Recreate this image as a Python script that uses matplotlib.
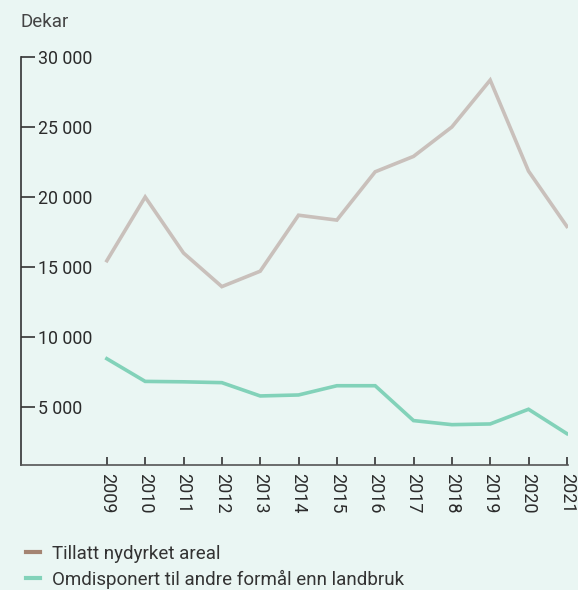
import matplotlib
matplotlib.use("Agg")
import matplotlib.pyplot as plt
from matplotlib.lines import Line2D
from matplotlib.ticker import FuncFormatter

# data (dekar)
years = [2009, 2010, 2011, 2012, 2013, 2014, 2015, 2016, 2017, 2018, 2019, 2020, 2021]
nydyrket = [15450, 20000, 16000, 13600, 14700, 18700, 18350, 21800, 22900, 25000, 28350, 21850, 17900]
omdisponert = [8450, 6830, 6800, 6740, 5790, 5860, 6520, 6520, 4030, 3740, 3790, 4840, 3100]
y_ticks = [5000, 10000, 15000, 20000, 25000, 30000]
series_labels = ["Tillatt nydyrket areal", "Omdisponert til andre formål enn landbruk"]

BG = "#eaf6f3"
GREY_LINE = "#c9c0bb"
BROWN_LEGEND = "#a48472"
TEAL = "#82d2b9"
TEXT = "#2b2b2b"

plt.rcParams["font.family"] = ["Roboto", "DejaVu Sans"]

fig = plt.figure(figsize=(5.78, 5.90), dpi=100, facecolor=BG)
ax = fig.add_axes([0.0363, 0.2119, 0.9464, 0.6915])
ax.set_facecolor(BG)

ax.plot(years, nydyrket, color=GREY_LINE, lw=2.6, solid_joinstyle="miter")
ax.plot(years, omdisponert, color=TEAL, lw=2.6, solid_joinstyle="miter")

ax.set_xlim(2006.76, 2021.03)
ax.set_ylim(860, 30000)

for s in ["top", "right"]:
    ax.spines[s].set_visible(False)
ax.spines["left"].set_color("#333333")
ax.spines["bottom"].set_color("#555555")
ax.spines["left"].set_linewidth(1.2)
ax.spines["bottom"].set_linewidth(1.2)

ax.set_yticks(y_ticks)
ax.yaxis.set_major_formatter(FuncFormatter(lambda v, p: f"{int(v):,}".replace(",", " ")))
ax.tick_params(axis="y", direction="in", length=10, width=1.2, color="#333333",
               pad=-12, labelsize=12.8, labelcolor=TEXT)
for lbl in ax.get_yticklabels():
    lbl.set_horizontalalignment("left")

ax.set_xticks(years)
ax.set_xticklabels([str(y) for y in years], rotation=-90)
ax.tick_params(axis="x", direction="in", length=6, width=1.2, color="#333333",
               pad=6, labelsize=13, labelcolor=TEXT)

fig.text(0.0363, 0.963, "Dekar", fontsize=13.5, color="#444444", va="center", ha="left")

handles = [Line2D([], [], color=BROWN_LEGEND, lw=3),
           Line2D([], [], color=TEAL, lw=3)]
fig.legend(handles, series_labels, loc="lower left", bbox_to_anchor=(0.015, -0.027),
           frameon=False, fontsize=13.5, labelcolor="#333333", handlelength=0.75,
           handletextpad=0.65, labelspacing=0.38)

fig.savefig("out.png", dpi=100, facecolor=BG)
